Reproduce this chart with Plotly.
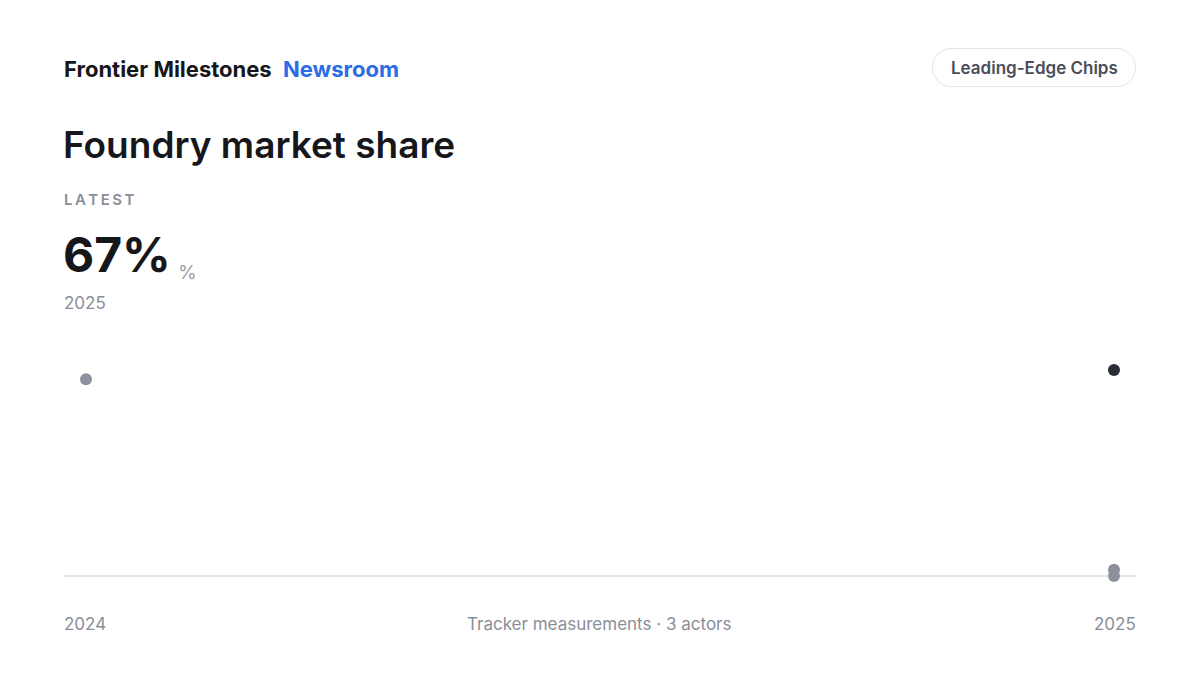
import plotly.graph_objects as go

# data
years_gray = [2024, 2025, 2025]
share_gray = [64, 2, 0]
latest_year = [2025]
latest_share = [67]
x_ticks = ["2024", "2025"]

W, H = 1200, 675
OFF = 8  # the page body adds 8px around the figure
L, R, T, B = 64, 1136, 330, 576  # plot area in page pixels
pad = 22 / 1028


def px(x):
    return (x - L) / (R - L)


def py(y):
    return (B - y) / (B - T)


fig = go.Figure()
fig.add_trace(go.Scatter(x=years_gray, y=share_gray, mode="markers",
                         marker=dict(size=12, color="#8d919e"),
                         cliponaxis=False, hoverinfo="x+y"))
fig.add_trace(go.Scatter(x=latest_year, y=latest_share, mode="markers",
                         marker=dict(size=12, color="#2a2d35"),
                         cliponaxis=False, hoverinfo="x+y"))

# baseline
fig.add_shape(type="line", xref="paper", yref="paper", x0=0, x1=1, y0=0, y1=0,
              line=dict(color="#e6e7eb", width=2), layer="below")

# pill around the tag
x0, x1, y0, y1, r = 932.5, 1135.5, 48.5, 86.5, 19
k = 0.5523 * r
pts = [
    ("M", [(x0 + r, y0)]),
    ("L", [(x1 - r, y0)]),
    ("C", [(x1 - r + k, y0), (x1, y0 + r - k), (x1, y0 + r)]),
    ("L", [(x1, y1 - r)]),
    ("C", [(x1, y1 - r + k), (x1 - r + k, y1), (x1 - r, y1)]),
    ("L", [(x0 + r, y1)]),
    ("C", [(x0 + r - k, y1), (x0, y1 - r + k), (x0, y1 - r)]),
    ("L", [(x0, y0 + r)]),
    ("C", [(x0, y0 + r - k), (x0 + r - k, y0), (x0 + r, y0)]),
]
path = " ".join(cmd + " " + " ".join(f"{px(a):.5f},{py(b):.5f}" for a, b in p) for cmd, p in pts) + " Z"
fig.add_shape(type="path", xref="paper", yref="paper", path=path,
              line=dict(color="#e3e5e9", width=1), fillcolor="white")

FONT = "Inter"


def label(text, x, y, size, color, weight=400, xanchor="left"):
    fig.add_annotation(text=text, xref="paper", yref="paper", x=px(x), y=py(y),
                       xanchor=xanchor, yanchor="middle", showarrow=False,
                       font=dict(family=FONT, size=size, color=color, weight=weight))


label("Frontier Milestones", 62, 69, 22, "#16171b", 700)
label("Newsroom", 281, 69, 22, "#2c6ce8", 700)
label("Leading-Edge Chips", 1034, 68, 17, "#4a4e59", 600, "center")
label("Foundry market share", 61, 144, 37, "#16171b", 600)
label("L\u2009A\u2009T\u2009E\u2009S\u2009T", 62, 199, 15, "#8a8e99", 600)
label("67%", 61, 254, 48, "#16171b", 700)
label("%", 176, 272, 19, "#9a9ea8", 400)
label("2025", 62, 303, 17, "#8a8e99", 400)
label(x_ticks[0], 62, 624, 17, "#8a8e99", 400)
label("Tracker measurements \u00b7 3 actors", 599, 624, 17, "#8a8e99", 400, "center")
label(x_ticks[1], 1138, 624, 17, "#8a8e99", 400, "right")

fig.update_layout(
    width=W, height=H,
    margin=dict(l=L - OFF, r=W - R + OFF, t=T - OFF, b=H - B + OFF, pad=0),
    paper_bgcolor="white", plot_bgcolor="white",
    showlegend=False,
    xaxis=dict(range=[2024 - pad, 2025 + pad], visible=False, fixedrange=True),
    yaxis=dict(range=[0, 80], visible=False, fixedrange=True),
)

fig.write_html("out.html")
